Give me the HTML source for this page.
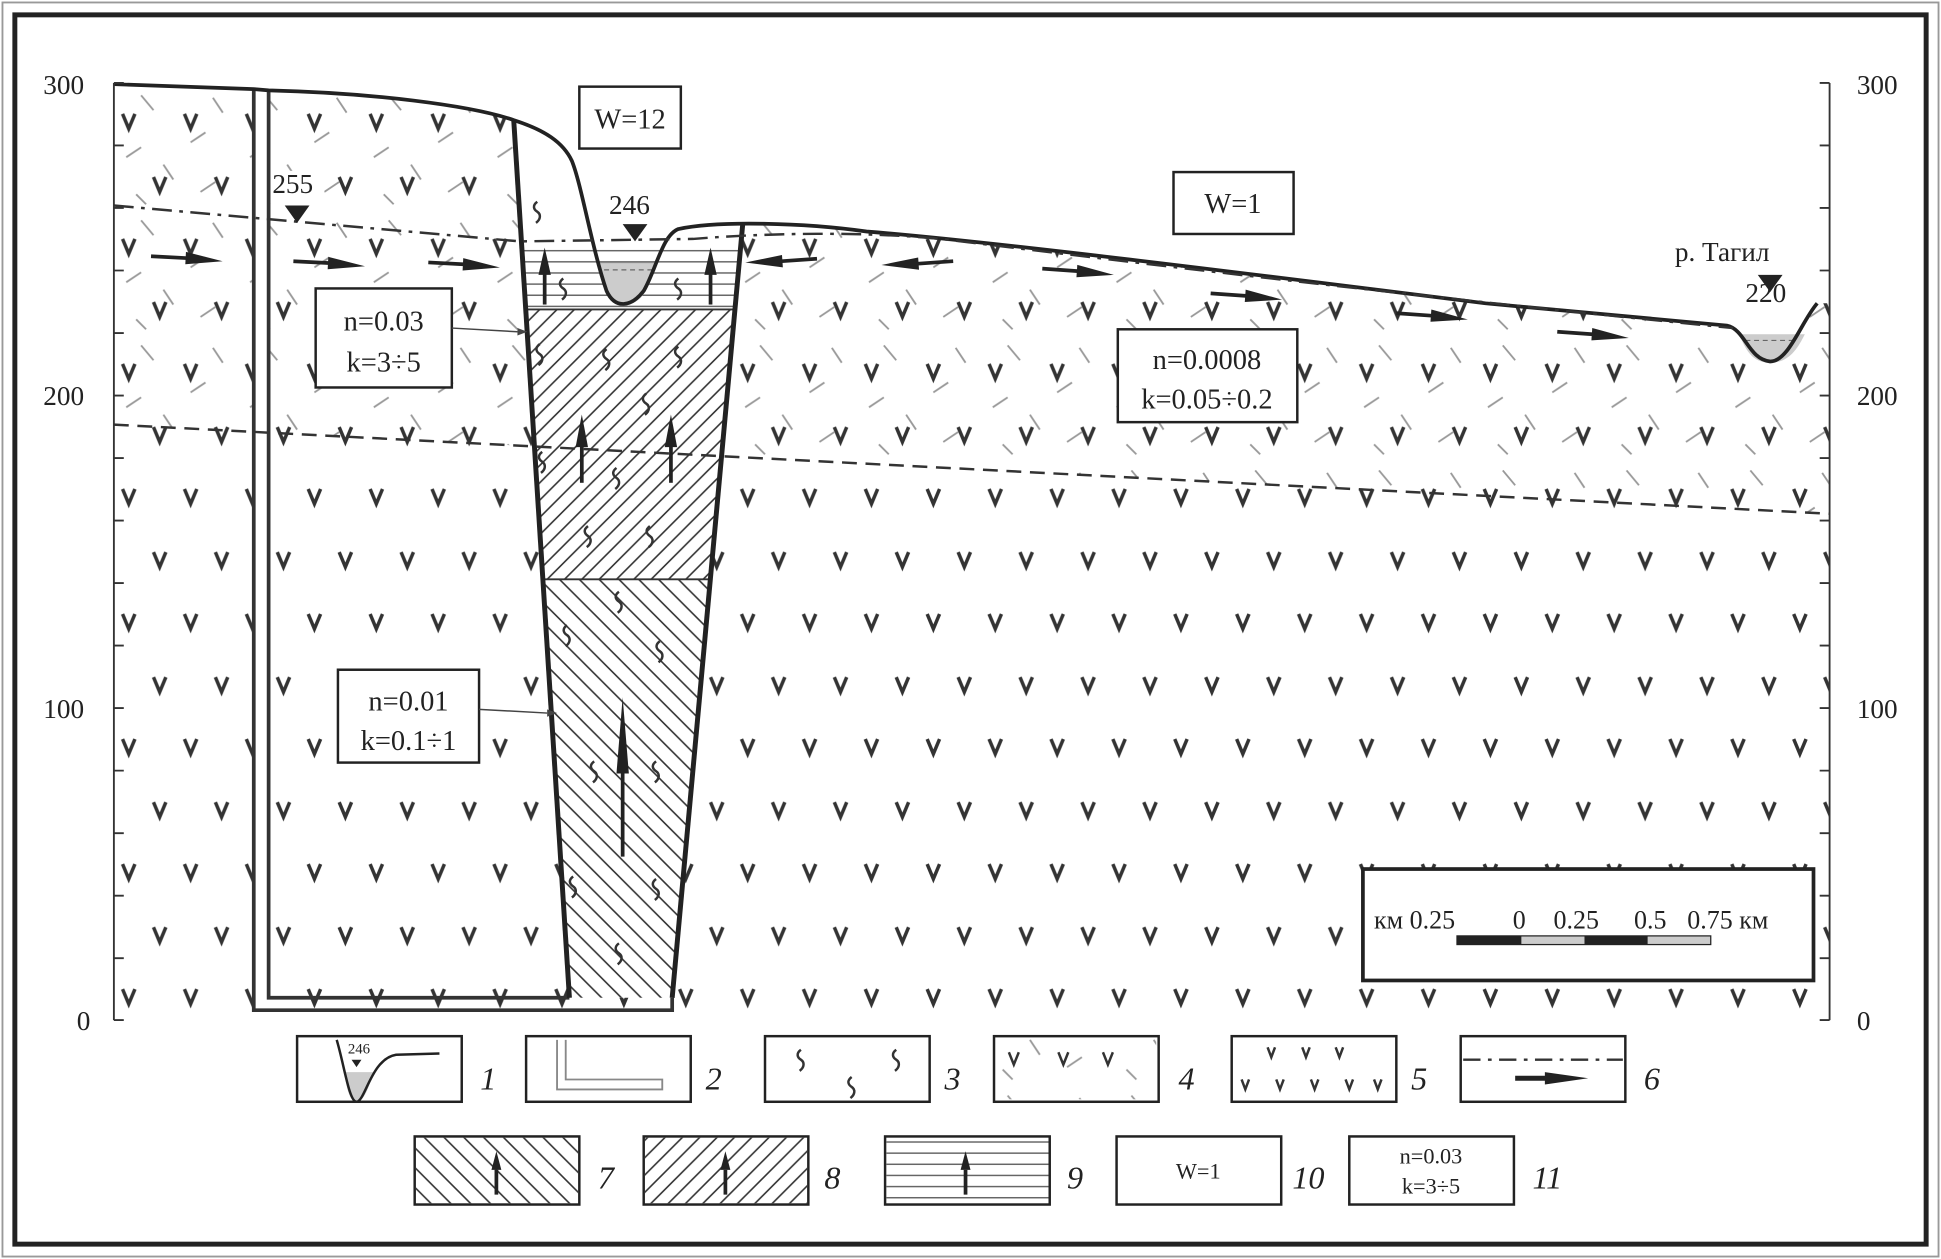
<!DOCTYPE html>
<html><head><meta charset="utf-8"><style>
html,body{margin:0;padding:0;background:#fff;}
svg{display:block;}
text{font-family:"Liberation Serif",serif;fill:#222;}
</style></head><body>
<svg width="1941" height="1259" viewBox="0 0 1568 1017" preserveAspectRatio="none" xmlns="http://www.w3.org/2000/svg">
<defs>
<pattern id="pv" width="50" height="101" patternUnits="userSpaceOnUse" x="92" y="67">
<path d="M7,25 L12,37 L17,25" fill="none" stroke="#333" stroke-width="2.8"/>
<path d="M32,76 L37,88 L42,76" fill="none" stroke="#333" stroke-width="2.8"/>
</pattern>
<pattern id="pd" width="100" height="101" patternUnits="userSpaceOnUse" x="92" y="67">
<path d="M22,10 L32,22 M62,48 L74,40 M80,12 L88,24 M10,60 L22,52 M40,66 L48,78 M70,88 L82,80 M18,90 L26,98" stroke="#999" stroke-width="1.5"/>
</pattern>
<pattern id="ph1" width="14" height="14" patternUnits="userSpaceOnUse"><path d="M-2,16 L16,-2 M-9,9 L9,-9 M5,23 L23,5" stroke="#333" stroke-width="1.3"/></pattern>
<pattern id="ph2" width="16" height="16" patternUnits="userSpaceOnUse"><path d="M-2,-2 L18,18 M-10,6 L10,26 M6,-10 L26,10" stroke="#333" stroke-width="1.3"/></pattern>
<pattern id="ph3" width="10" height="9" patternUnits="userSpaceOnUse"><path d="M0,4.5 L10,4.5" stroke="#666" stroke-width="1.2"/></pattern>
<path id="s" d="M0,0 c-4,3 -3,6 0,8 c3,2 3,6 -1,9" fill="none" stroke="#333" stroke-width="2"/>
<g id="ar"><line x1="0" y1="0" x2="30" y2="0" stroke="#222" stroke-width="3"/><polygon points="28,-5 58,1 28,5" fill="#222"/></g>
<g id="va"><line x1="0" y1="0" x2="0" y2="-26" stroke="#222" stroke-width="3"/><polygon points="-5,-24 0,-46 5,-24" fill="#222"/></g>
<clipPath id="cUp"><path d="M92,68 L205,72 L217,73 C300,75 380,85 415,97 C440,105 455,115 462,130 C470,150 478,200 490,235 C497,250 510,248 520,235 C530,218 535,190 548,185 C580,178 650,180 700,187 C800,195 1000,220 1200,245 L1395,263 C1410,266 1412,290 1430,292 C1445,292 1455,260 1468,245 L1478,245 L1478,415 L92,343 Z"/></clipPath>
<clipPath id="cAll"><path d="M92,68 L205,72 L217,73 C300,75 380,85 415,97 C440,105 455,115 462,130 C470,150 478,200 490,235 C497,250 510,248 520,235 C530,218 535,190 548,185 C580,178 650,180 700,187 C800,195 1000,220 1200,245 L1395,263 C1410,266 1412,290 1430,292 C1445,292 1455,260 1468,245 L1478,245 L1478,824 L92,824 Z"/></clipPath>
</defs>
<rect x="0" y="0" width="1568" height="1017" fill="#fff"/>
<rect x="2" y="2" width="1564" height="1013" fill="none" stroke="#999" stroke-width="1.5"/>
<rect x="12" y="12" width="1544" height="993" fill="none" stroke="#222" stroke-width="4"/>

<rect x="92" y="60" width="1386" height="770" fill="url(#pv)" clip-path="url(#cAll)"/>
<rect x="92" y="60" width="1386" height="370" fill="url(#pd)" clip-path="url(#cUp)"/>
<rect x="206" y="72" width="10" height="744" fill="#fff"/>

<!-- fault block -->
<polygon points="415,97 600,182 543,806 460,806" fill="#fff"/>
<path d="M415,97 C440,105 455,115 462,130 C470,150 478,200 490,235 C497,250 510,248 520,235 C530,218 535,190 548,185 L600,181 L599,195 L421,195 Z" fill="#fff"/>
<polygon points="421,195 599,195 594,250 425,250" fill="url(#ph3)"/>
<polygon points="425,250 594,250 574,468 439,468" fill="url(#ph1)"/>
<polygon points="439,468 574,468 543,806 460,806" fill="url(#ph2)"/>
<line x1="425" y1="250" x2="594" y2="250" stroke="#333" stroke-width="1.5"/>
<line x1="439" y1="468" x2="574" y2="468" stroke="#333" stroke-width="1.5"/>
<!-- water -->
<path d="M482,212 L530,212 C526,228 520,246 505,246 C492,246 487,228 482,212 Z" fill="#ccc"/>
<line x1="482" y1="212" x2="530" y2="212" stroke="#888" stroke-width="1"/>
<line x1="488" y1="218" x2="528" y2="218" stroke="#666" stroke-width="1" stroke-dasharray="4,3"/>
<path d="M1405,270 L1458,270 C1452,282 1445,293 1430,293 C1415,293 1410,282 1405,270 Z" fill="#ccc"/>
<line x1="1410" y1="275" x2="1452" y2="275" stroke="#666" stroke-width="1" stroke-dasharray="4,3"/>
<!-- s symbols -->
<use href="#s" x="434" y="163"/><use href="#s" x="436" y="278"/><use href="#s" x="490" y="282"/><use href="#s" x="548" y="280"/>
<use href="#s" x="455" y="225"/><use href="#s" x="548" y="225"/><use href="#s" x="522" y="318"/><use href="#s" x="438" y="365"/>
<use href="#s" x="498" y="378"/><use href="#s" x="475" y="425"/><use href="#s" x="525" y="425"/><use href="#s" x="500" y="478"/>
<use href="#s" x="458" y="505"/><use href="#s" x="533" y="518"/><use href="#s" x="480" y="615"/><use href="#s" x="530" y="615"/>
<use href="#s" x="463" y="708"/><use href="#s" x="530" y="710"/><use href="#s" x="500" y="762"/>
<!-- column double lines -->
<path d="M205,72 L205,816 L543,816 L543,806" fill="none" stroke="#333" stroke-width="3"/>
<path d="M217,73 L217,806 L460,806" fill="none" stroke="#333" stroke-width="3"/>
<line x1="415" y1="97" x2="460" y2="806" stroke="#222" stroke-width="4"/>
<line x1="600" y1="181" x2="543" y2="806" stroke="#222" stroke-width="4"/>
<!-- surface -->
<path d="M92,68 L205,72 L217,73 C300,75 380,85 415,97 C440,105 455,115 462,130 C470,150 478,200 490,235 C497,250 510,248 520,235 C530,218 535,190 548,185 C580,178 650,180 700,187 C800,195 1000,220 1200,245 L1395,263 C1410,266 1412,290 1430,292 C1445,292 1455,260 1468,245" fill="none" stroke="#222" stroke-width="3"/>
<!-- water table -->
<path d="M92,166 L420,195 L560,193 C620,188 700,187 760,193 C900,210 1100,235 1400,265" fill="none" stroke="#333" stroke-width="2" stroke-dasharray="16,6,3,6"/>
<line x1="92" y1="343" x2="1478" y2="415" stroke="#333" stroke-width="2" stroke-dasharray="12,7"/>
<!-- arrows -->
<use href="#ar" transform="translate(122,207) rotate(3)"/>
<use href="#ar" transform="translate(237,211) rotate(3)"/>
<use href="#ar" transform="translate(346,212) rotate(3)"/>
<use href="#ar" transform="translate(842,217) rotate(4)"/>
<use href="#ar" transform="translate(978,237) rotate(4)"/>
<use href="#ar" transform="translate(1128,253) rotate(4)"/>
<use href="#ar" transform="translate(1258,268) rotate(4)"/>
<use href="#ar" transform="translate(660,209) rotate(176)"/>
<use href="#ar" transform="translate(770,211) rotate(176)"/>
<use href="#va" x="440" y="246"/><use href="#va" x="574" y="246"/>
<use href="#va" transform="translate(470,390) scale(1,1.2)"/><use href="#va" transform="translate(542,390) scale(1,1.2)"/>
<use href="#va" transform="translate(503,692) scale(1,2.8)"/>
<!-- axes -->
<g stroke="#333" stroke-width="1.5">
<line x1="92" y1="67" x2="92" y2="824"/><line x1="1478" y1="67" x2="1478" y2="824"/>
<path d="M92,67h8M92,117.5h8M92,168h8M92,218.5h8M92,269h8M92,319.5h8M92,370h8M92,420.5h8M92,471h8M92,521.5h8M92,572h8M92,622.5h8M92,673h8M92,723.5h8M92,774h8M92,824h8"/>
<path d="M1478,67h-8M1478,117.5h-8M1478,168h-8M1478,218.5h-8M1478,269h-8M1478,319.5h-8M1478,370h-8M1478,420.5h-8M1478,471h-8M1478,521.5h-8M1478,572h-8M1478,622.5h-8M1478,673h-8M1478,723.5h-8M1478,774h-8M1478,824h-8"/>
</g>
<g font-size="22">
<text x="35" y="76">300</text><text x="35" y="327">200</text><text x="35" y="580">100</text><text x="62" y="832">0</text>
<text x="1500" y="76">300</text><text x="1500" y="327">200</text><text x="1500" y="580">100</text><text x="1500" y="832">0</text>
<rect x="220" y="138" width="42" height="22" fill="#fff"/>
<text x="220" y="156">255</text><text x="492" y="173">246</text>
<rect x="1352" y="190" width="112" height="26" fill="#fff"/>
<text x="1353" y="211">р. Тагил</text><text x="1410" y="244">220</text>
</g>
<g fill="#222"><polygon points="230,166 250,166 240,180"/><polygon points="503,181 523,181 513,195"/><polygon points="1420,222 1440,222 1430,236"/></g>
<!-- label boxes -->
<g fill="#fff" stroke="#222" stroke-width="2">
<rect x="468" y="70" width="82" height="50"/><rect x="948" y="139" width="97" height="50"/>
<rect x="255" y="233" width="110" height="80"/><rect x="273" y="541" width="114" height="75"/>
<rect x="903" y="266" width="145" height="75"/>
<rect x="1101" y="702" width="364" height="90" stroke-width="3"/>
</g>
<g stroke="#444" stroke-width="1.2"><line x1="365" y1="265" x2="418" y2="268"/><line x1="387" y1="573" x2="442" y2="576"/></g>
<g fill="#444"><polygon points="418,265 426,268 418,271"/><polygon points="442,573 450,576 442,579"/></g>
<g font-size="23" text-anchor="middle">
<text x="509" y="104">W=12</text><text x="996" y="172">W=1</text>
<text x="310" y="267">n=0.03</text><text x="310" y="300">k=3÷5</text>
<text x="330" y="574">n=0.01</text><text x="330" y="606">k=0.1÷1</text>
<text x="975" y="298">n=0.0008</text><text x="975" y="330">k=0.05÷0.2</text>
</g>
<text x="1110" y="750" font-size="21">км 0.25</text><text x="1222" y="750" font-size="21">0</text><text x="1255" y="750" font-size="21">0.25</text><text x="1320" y="750" font-size="21">0.5</text><text x="1363" y="750" font-size="21">0.75 км</text>
<rect x="1177" y="756" width="205" height="7" fill="#ccc" stroke="#222" stroke-width="1"/>
<rect x="1177" y="756" width="52" height="7" fill="#222"/><rect x="1280" y="756" width="51" height="7" fill="#222"/>
<!-- legend -->
<g fill="#fff" stroke="#222" stroke-width="2">
<rect x="240" y="837" width="133" height="53"/><rect x="425" y="837" width="133" height="53"/><rect x="618" y="837" width="133" height="53"/>
<rect x="803" y="837" width="133" height="53"/><rect x="995" y="837" width="133" height="53"/><rect x="1180" y="837" width="133" height="53"/>
<rect x="335" y="918" width="133" height="55"/><rect x="520" y="918" width="133" height="55"/><rect x="715" y="918" width="133" height="55"/>
<rect x="902" y="918" width="133" height="55"/><rect x="1090" y="918" width="133" height="55"/>
</g>
<path d="M278,866 L302,866 C298,878 294,890 288,890 C282,890 280,878 278,866Z" fill="#ccc"/>
<path d="M272,840 C278,860 282,890 288,890 C295,890 300,855 320,852 L355,851" fill="none" stroke="#222" stroke-width="2"/>
<polygon points="284,856 292,856 288,862" fill="#222"/><text x="281" y="851" font-size="12">246</text>
<path d="M457,840 V872 H535 V880 H450 V840" fill="none" stroke="#888" stroke-width="1.5"/>
<use href="#s" x="647" y="848"/><use href="#s" x="724" y="848"/><use href="#s" x="688" y="870"/>
<rect x="805" y="839" width="129" height="49" fill="url(#pd)"/>
<g fill="none" stroke="#333" stroke-width="2"><path d="M815,850l4,10l4,-10M855,850l4,10l4,-10M891,850l4,10l4,-10"/>
<path d="M1024,846l3,8l3,-8M1052,846l3,8l3,-8M1079,846l3,8l3,-8M1003,872l3,8l3,-8M1031,872l3,8l3,-8M1059,872l3,8l3,-8M1087,872l3,8l3,-8M1110,872l3,8l3,-8"/></g>
<line x1="1182" y1="856" x2="1311" y2="856" stroke="#333" stroke-width="2" stroke-dasharray="14,6,3,6"/>
<line x1="1224" y1="871" x2="1250" y2="871" stroke="#222" stroke-width="4"/><polygon points="1248,866 1283,871 1248,876" fill="#222"/>
<rect x="336" y="919" width="131" height="53" fill="url(#ph2)"/><rect x="521" y="919" width="131" height="53" fill="url(#ph1)"/><rect x="716" y="919" width="131" height="53" fill="url(#ph3)"/>
<g stroke="#222" stroke-width="3" fill="#222">
<line x1="401" y1="965" x2="401" y2="945"/><polygon points="397,945 401,930 405,945" stroke="none"/>
<line x1="586" y1="965" x2="586" y2="945"/><polygon points="582,945 586,930 590,945" stroke="none"/>
<line x1="780" y1="965" x2="780" y2="945"/><polygon points="776,945 780,930 784,945" stroke="none"/>
</g>
<g font-size="18" text-anchor="middle"><text x="968" y="952">W=1</text><text x="1156" y="940">n=0.03</text><text x="1156" y="964">k=3÷5</text></g>
<g font-size="26" font-style="italic">
<text x="388" y="880">1</text><text x="570" y="880">2</text><text x="763" y="880">3</text><text x="952" y="880">4</text><text x="1140" y="880">5</text><text x="1328" y="880">6</text>
<text x="483" y="960">7</text><text x="666" y="960">8</text><text x="862" y="960">9</text><text x="1044" y="960">10</text><text x="1238" y="960">11</text>
</g>
</svg>
</body></html>
